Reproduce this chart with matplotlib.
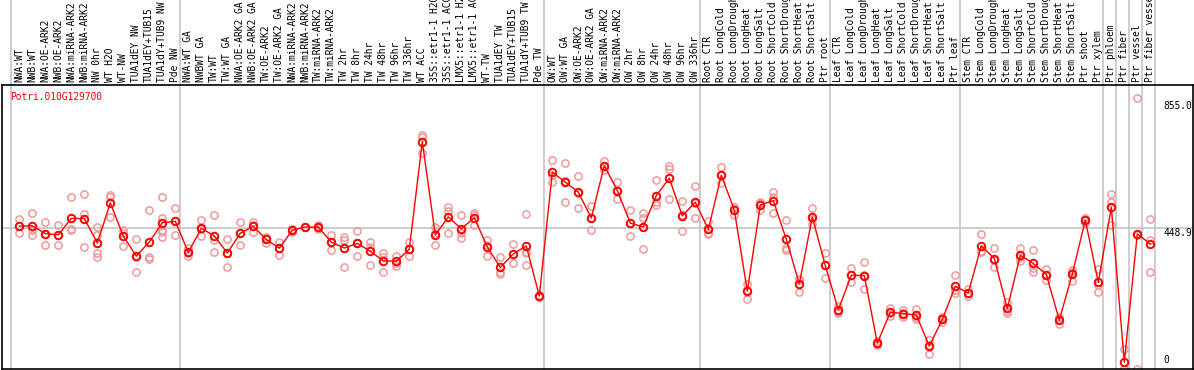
import numpy as np
import matplotlib
matplotlib.use("Agg")
import matplotlib.pyplot as plt
import matplotlib.transforms as mtransforms

# Sample labels (one per column)
labels = [
    "NWA:WT", "NWB:WT", "NWA:OE-ARK2", "NWB:OE-ARK2", "NWA:miRNA-ARK2",
    "NWB:miRNA-ARK2", "NW 0hr", "WT H2O", "WT-NW", "TUA1dEY NW",
    "TUA1dEY+TUB15", "TUA1dY+TUB9 NW", "Pde NW", "NWA:WT GA", "NWBWT GA",
    "TW:WT", "TW:WT GA", "NWA:OE-ARK2 GA", "NWB:OE-ARK2 GA", "TW:OE-ARK2",
    "TW:OE-ARK2 GA", "NWA:miRNA-ARK2", "NWB:miRNA-ARK2", "TW:miRNA-ARK2",
    "TW:miRNA-ARK2", "TW 2hr", "TW 8hr", "TW 24hr", "TW 48hr", "TW 96hr",
    "TW 336hr", "WT ACC", "35S::etr1-1 H2O", "35S::etr1-1 ACC",
    "LMX5::etr1-1 H2O", "LMX5::etr1-1 ACC", "WT-TW", "TUA1dEY TW",
    "TUA1dEY+TUB15", "TUA1dY+TUB9 TW", "Pde TW", "OW:WT", "OW:WT GA",
    "OW:OE-ARK2", "OW:OE-ARK2 GA", "OW:miRNA-ARK2", "OW:miRNA-ARK2",
    "OW 2hr", "OW 8hr", "OW 24hr", "OW 48hr", "OW 96hr", "OW 336hr",
    "Root CTR", "Root LongCold", "Root LongDrought", "Root LongHeat",
    "Root LongSalt", "Root ShortCold", "Root ShortDrought", "Root ShortHeat",
    "Root ShortSalt", "Ptr root", "Leaf CTR", "Leaf LongCold",
    "Leaf LongDrought", "Leaf LongHeat", "Leaf LongSalt", "Leaf ShortCold",
    "Leaf ShortDrought", "Leaf ShortHeat", "Leaf ShortSalt", "Ptr leaf",
    "Stem CTR", "Stem LongCold", "Stem LongDrought", "Stem LongHeat",
    "Stem LongSalt", "Stem ShortCold", "Stem ShortDrought", "Stem ShortHeat",
    "Stem ShortSalt", "Ptr shoot", "Ptr xylem", "Ptr phloem", "Ptr fiber",
    "Ptr vessel", "Ptr fiber vessel",
]

# Replicate expression values per sample
replicates = [
    [477, 455, 432], [497, 443, 428], [467, 431, 395], [459, 427, 395],
    [548, 447, 443], [556, 493, 388], [452, 427, 370, 355], [554, 549, 483],
    [443, 434, 392], [414, 357, 307], [506, 355, 351],
    [548, 481, 443, 419, 437], [513, 470, 427], [386, 368, 360],
    [475, 447, 422], [490, 411, 371], [414, 370, 323], [467, 434, 395],
    [469, 457, 437], [421, 402, 414], [404, 385, 364], [437, 446, 442],
    [453, 451, 452], [457, 445, 453], [428, 403, 380], [421, 411, 323],
    [439, 400, 360], [405, 389, 330], [368, 357, 307], [361, 338, 329],
    [403, 381, 359], [746, 738, 689], [452, 432, 395], [517, 504, 432],
    [490, 432, 416], [496, 490, 459], [411, 395, 360], [357, 310, 302],
    [398, 365, 336], [493, 373, 370, 330], [235, 232, 229],
    [666, 618, 596], [656, 599, 532], [614, 562, 513], [519, 481, 442],
    [662, 647, 634], [595, 570, 540], [506, 464, 423], [496, 480, 381],
    [602, 533, 522], [647, 636, 540], [535, 490, 438], [582, 530, 481],
    [470, 434, 429], [643, 617, 592], [517, 512, 490], [270, 251, 221],
    [533, 528, 506], [563, 549, 496], [475, 384, 379], [285, 283, 244],
    [512, 477, 462], [368, 331, 289], [201, 185, 179], [320, 299, 275],
    [339, 299, 253], [88, 81, 76], [195, 177, 168], [187, 177, 164],
    [190, 166, 157], [92, 76, 48], [166, 157, 148], [298, 251, 240],
    [253, 240, 232], [429, 377, 372], [384, 347, 323], [214, 184, 179],
    [384, 357, 344], [378, 320, 310], [319, 299, 283], [166, 157, 142],
    [315, 310, 281], [482, 475, 464], [317, 267, 244], [556, 531, 457],
    [63, 0, 0], [863, 427, 0], [477, 410, 307],
]

gene_name = "Potri.010G129700"
scale_ticks = [855.0, 448.9, 0]
group_ends = [0, 13, 41, 53, 63, 73, 84, 85, 86, 87, 88]

mono = "DejaVu Sans Mono"
fs = 6.9

x = np.arange(1, len(labels) + 1)
means = np.array([np.mean(r) for r in replicates])

fig = plt.figure(figsize=(11.94, 3.70), dpi=100)
W, H = 1194, 370
ax = fig.add_axes([2 / W, 1 - 369 / H, 1191 / W, 284 / H])
ax.set_xlim(1 + (2 - 19.3) / 13, 1 + (1193 - 19.3) / 13)
ax.set_ylim(-1, 905)
ax.set_xticks([])
ax.set_yticks([])
for s in ax.spines.values():
    s.set_color("black")
    s.set_linewidth(1.2)

trans = mtransforms.blended_transform_factory(ax.transData, ax.transAxes)

# group separators run up through the label area
for g in group_ends:
    ax.plot([g + 0.36, g + 0.36], [0, 369 / 284], transform=trans,
            color="#c0c0c0", linewidth=1.1, clip_on=False, zorder=0)
ax.axhline(448.9, color="#c0c0c0", linewidth=1.1, zorder=0)

for xi, reps in zip(x, replicates):
    ax.plot([xi] * len(reps), reps, linestyle="none", marker="o",
            markersize=5.2, markerfacecolor="none", markeredgecolor="#ef9a9a",
            markeredgewidth=1.1, zorder=2)

ax.plot(x, means, color="red", linewidth=1.0, marker="o", markersize=5.4,
        markerfacecolor="none", markeredgecolor="red", markeredgewidth=1.4,
        zorder=3)

# rotated sample labels above the plot
for xi, lab in zip(x, labels):
    ax.text(xi, 1 + 3 / 284, lab, transform=trans, rotation=90, ha="center",
            va="bottom", fontsize=fs, family=mono, clip_on=False)

ax.text(8 / 1191, (369 - 97) / 284, gene_name, transform=ax.transAxes,
        color="red", fontsize=fs, family=mono, ha="left", va="center")

tx = 1 + (1163 - 19.3) / 13
ax.text(tx, scale_ticks[0], "855.0", fontsize=fs, family=mono, ha="left", va="top")
ax.text(tx, scale_ticks[1], "448.9", fontsize=fs, family=mono, ha="left", va="top")
ax.text(tx, scale_ticks[2] + 12, "0", fontsize=fs, family=mono, ha="left", va="bottom")

fig.savefig("out.png", dpi=100)
